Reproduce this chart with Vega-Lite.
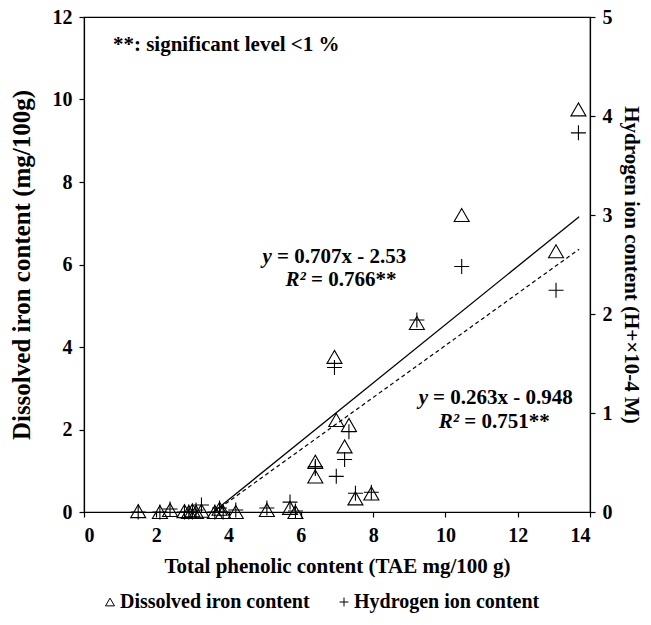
{
  "$schema": "https://vega.github.io/schema/vega-lite/v6.json",
  "width": 506,
  "height": 495,
  "autosize": "none",
  "padding": {"left": 84, "top": 17, "right": 61, "bottom": 113},
  "background": "white",
  "config": {
    "font": "Liberation Serif",
    "view": {"stroke": "black", "strokeWidth": 1.2},
    "axis": {
      "labelFont": "Liberation Serif", "labelFontWeight": 900, "labelFontStyle": "normal", "labelFontSize": 20, "labelColor": "black",
      "titleFont": "Liberation Serif", "titleFontWeight": "bold", "titleFontSize": 21, "titleColor": "black",
      "domainColor": "black", "tickColor": "black", "grid": false, "tickSize": 5,
      "domainWidth": 1.2, "tickWidth": 1.2, "labelPadding": 5
    },
    "legend": {
      "labelFont": "Liberation Serif", "labelFontWeight": "bold", "labelFontSize": 20, "labelColor": "black", "labelLimit": 0,
      "symbolSize": 80, "symbolStrokeWidth": 1, "symbolStrokeColor": "black", "columnPadding": 24, "labelOffset": 0
    }
  },
  "datasets": {
    "samples": [
      {"x": 1.5, "iron": 0.02, "h": 0.0},
      {"x": 2.1, "iron": 0.0, "h": 0.0},
      {"x": 2.38, "iron": 0.05, "h": 0.03},
      {"x": 2.78, "iron": 0.02, "h": 0.0},
      {"x": 2.9, "iron": 0.0, "h": 0.0},
      {"x": 3.0, "iron": 0.04, "h": 0.0},
      {"x": 3.1, "iron": 0.0, "h": 0.02},
      {"x": 3.25, "iron": 0.03, "h": 0.07},
      {"x": 3.62, "iron": 0.0, "h": 0.0},
      {"x": 3.75, "iron": 0.08, "h": 0.04},
      {"x": 3.85, "iron": 0.0, "h": 0.0},
      {"x": 4.2, "iron": 0.0, "h": 0.02},
      {"x": 5.06, "iron": 0.05, "h": 0.04},
      {"x": 5.7, "iron": 0.1, "h": 0.1},
      {"x": 5.85, "iron": 0.0, "h": 0.01},
      {"x": 6.4, "iron": 1.22, "h": 0.46},
      {"x": 6.4, "iron": 0.86, "h": 0.44},
      {"x": 6.93, "iron": 3.76, "h": 1.46},
      {"x": 6.98, "iron": 2.23, "h": 0.36},
      {"x": 7.21, "iron": 1.59, "h": 0.53},
      {"x": 7.33, "iron": 2.11, "h": 0.81},
      {"x": 7.51, "iron": 0.33, "h": 0.19},
      {"x": 7.95, "iron": 0.45, "h": 0.2},
      {"x": 9.21, "iron": 4.58, "h": 1.94},
      {"x": 10.45, "iron": 7.2, "h": 2.48},
      {"x": 13.06, "iron": 6.32, "h": 2.24},
      {"x": 13.68, "iron": 9.76, "h": 3.83}
    ]
  },
  "layer": [
    {
      "layer": [
        {
          "data": {"name": "samples"},
          "mark": {"type": "point", "filled": false, "color": "black", "size": 225, "strokeWidth": 1.1, "opacity": 1},
          "encoding": {
            "x": {"field": "x", "type": "quantitative", "scale": {"domain": [0, 14], "nice": false},
                  "axis": {"title": "Total phenolic content (TAE mg/100 g)", "values": [0, 2, 4, 6, 8, 10, 12, 14], "labelPadding": 8, "titlePadding": 10}},
            "y": {"field": "iron", "type": "quantitative", "scale": {"domain": [0, 12], "nice": false},
                  "axis": {"title": "Dissolved iron content (mg/100g)", "titleFontSize": 25, "values": [0, 2, 4, 6, 8, 10, 12], "orient": "left", "labelPadding": 7, "titlePadding": 18}},
            "shape": {"datum": "Dissolved iron content", "type": "nominal",
                      "scale": {"domain": ["Dissolved iron content", "Hydrogen ion content"], "range": ["triangle-up", "M-1,0H1M0,-1V1"]},
                      "legend": {"title": null, "orient": "none", "direction": "horizontal", "legendX": 16, "legendY": 575}}
          }
        },
        {
          "data": {"values": [{"x": 3.58, "iron": 0}, {"x": 13.7, "iron": 7.16}]},
          "mark": {"type": "line", "color": "black", "strokeWidth": 1.3},
          "encoding": {
            "x": {"field": "x", "type": "quantitative"},
            "y": {"field": "iron", "type": "quantitative"}
          }
        },
        {
          "data": {"values": [
            {"x": 0.8, "iron": 11.32, "t": "**: significant level <1 %"}
          ]},
          "mark": {"type": "text", "align": "left", "baseline": "middle", "font": "Liberation Serif", "fontWeight": "bold", "fontSize": 21, "color": "black"},
          "encoding": {
            "x": {"field": "x", "type": "quantitative"},
            "y": {"field": "iron", "type": "quantitative"},
            "text": {"field": "t"}
          }
        },
        {
          "data": {"values": [
            {"x": 5.2, "iron": 6.19, "t": "y"},
            {"x": 6.14, "iron": 5.62, "t": "R²"},
            {"x": 9.52, "iron": 2.77, "t": "y"},
            {"x": 10.38, "iron": 2.18, "t": "R²"}
          ]},
          "mark": {"type": "text", "align": "right", "baseline": "middle", "font": "Liberation Serif", "fontWeight": "bold", "fontStyle": "italic", "fontSize": 21, "color": "black"},
          "encoding": {
            "x": {"field": "x", "type": "quantitative"},
            "y": {"field": "iron", "type": "quantitative"},
            "text": {"field": "t"}
          }
        },
        {
          "data": {"values": [
            {"x": 5.2, "iron": 6.19, "t": "= 0.707x - 2.53"},
            {"x": 6.14, "iron": 5.62, "t": "= 0.766**"},
            {"x": 9.52, "iron": 2.77, "t": "= 0.263x - 0.948"},
            {"x": 10.38, "iron": 2.18, "t": "= 0.751**"}
          ]},
          "mark": {"type": "text", "align": "left", "dx": 5, "baseline": "middle", "font": "Liberation Serif", "fontWeight": "bold", "fontSize": 21, "color": "black"},
          "encoding": {
            "x": {"field": "x", "type": "quantitative"},
            "y": {"field": "iron", "type": "quantitative"},
            "text": {"field": "t"}
          }
        }
      ]
    },
    {
      "layer": [
        {
          "data": {"name": "samples"},
          "mark": {"type": "point", "filled": false, "color": "black", "size": 225, "strokeWidth": 1.1, "opacity": 1},
          "encoding": {
            "x": {"field": "x", "type": "quantitative"},
            "y": {"field": "h", "type": "quantitative", "scale": {"domain": [0, 5], "nice": false},
                  "axis": {"title": "Hydrogen ion content (H+×10-4 M)", "values": [0, 1, 2, 3, 4, 5], "format": "d", "orient": "right", "labelPadding": 7, "titlePadding": 8}},
            "shape": {"datum": "Hydrogen ion content", "type": "nominal"}
          }
        },
        {
          "data": {"values": [{"x": 3.6, "h": 0}, {"x": 13.7, "h": 2.655}]},
          "mark": {"type": "line", "color": "black", "strokeWidth": 1.2, "strokeDash": [4, 3]},
          "encoding": {
            "x": {"field": "x", "type": "quantitative"},
            "y": {"field": "h", "type": "quantitative"}
          }
        }
      ]
    }
  ],
  "resolve": {"scale": {"y": "independent"}}
}
